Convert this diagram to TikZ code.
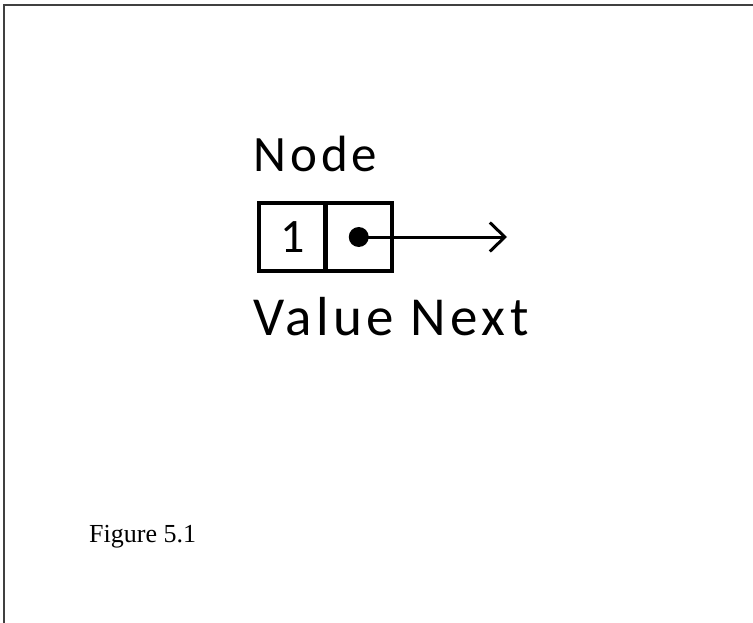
\documentclass[tikz,border=0pt]{standalone}
\usepackage{fontspec}
\setmainfont{Liberation Serif}
\newfontfamily\cellfont{Carlito}[LetterSpace=8]
\usetikzlibrary{arrows.meta,positioning}

\tikzset{
    cell/.style={draw, rectangle, line width=4.5pt, minimum width=66.5pt,
        minimum height=68pt, inner sep=0pt, outer sep=0pt},
    word/.style={anchor=base west, inner sep=0pt, font=\cellfont}
}

\begin{document}
\begin{tikzpicture}[x=1pt, y=-1pt]
    \useasboundingbox (0,0) rectangle (753,623);

    % Frame
    \draw[line width=2pt, black!75] (753,5) -- (4,5) -- (4,623);

    % Cells
    \node[cell] (value) at (292.25,237) {\fontsize{48}{48}\cellfont 1};
    \node[cell, right=0pt of value] (next) {};

    % Pointer
    \node[circle, fill=black, inner sep=0pt, minimum size=20pt] (dot) at (next.center) {};
    \coordinate (tip) at (507,237);
    \draw[line width=3pt, -{Straight Barb[length=15pt, width=29pt]}] (dot.center) -- (tip);

    % Labels
    \node[word, font=\fontsize{51}{51}\cellfont] (title) at (253,172) {Node};
    \node[word, font=\fontsize{55}{55}\cellfont] (parts) at (253,335) {Value Next};
    \node[anchor=base west, inner sep=0pt, font=\fontsize{26}{26}\selectfont] (caption) at (89,542) {Figure 5.1};
\end{tikzpicture}
\end{document}
